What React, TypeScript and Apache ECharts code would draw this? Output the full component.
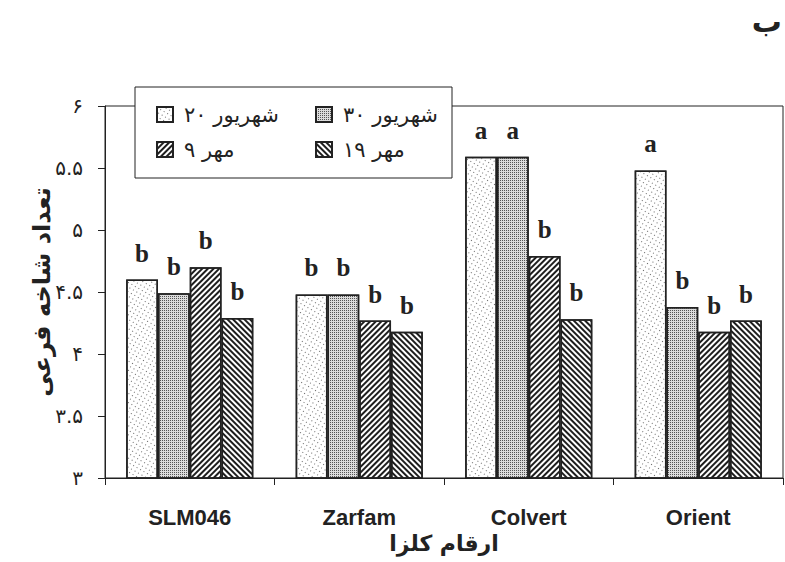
import React, { useEffect, useRef } from "react";
import * as echarts from "echarts";

const categories = ["SLM046", "Zarfam", "Colvert", "Orient"];
const seriesNames = ["شهریور ۲۰", "شهریور ۳۰", "مهر ۹", "مهر ۱۹"];
const valuesShahrivar20 = [4.6, 4.48, 5.59, 5.48];
const valuesShahrivar30 = [4.49, 4.48, 5.59, 4.38];
const valuesMehr9 = [4.7, 4.27, 4.79, 4.18];
const valuesMehr19 = [4.29, 4.18, 4.28, 4.27];
const lettersShahrivar20 = ["b", "b", "a", "a"];
const lettersShahrivar30 = ["b", "b", "a", "b"];
const lettersMehr9 = ["b", "b", "b", "b"];
const lettersMehr19 = ["b", "b", "b", "b"];
const yTicks = { min: 3, max: 6, interval: 0.5 };
const yAxisName = "تعداد شاخه فرعی";
const xAxisName = "ارقام کلزا";
const panelLetter = "ب";

const faDigits = "۰۱۲۳۴۵۶۷۸۹";
const toFa = (s: string) => s.replace(/[0-9]/g, (d) => faDigits[Number(d)]);

const allValues = [valuesShahrivar20, valuesShahrivar30, valuesMehr9, valuesMehr19];
const allLetters = [lettersShahrivar20, lettersShahrivar30, lettersMehr9, lettersMehr19];

const barColors = ["#ffffff", "#dcdcdc", "#ffffff", "#ffffff"];
const decals: any[] = [
  { symbol: "rect", symbolSize: 1, color: "#6a6a6a", dashArrayX: [1, 3], dashArrayY: [1, 3] },
  { symbol: "rect", symbolSize: 1, color: "#555555", dashArrayX: [1, 1], dashArrayY: [1, 1] },
  { symbol: "rect", symbolSize: 1, color: "#1e1e1e", dashArrayX: [1, 0], dashArrayY: [2, 1.5], rotation: -Math.PI / 4 },
  { symbol: "rect", symbolSize: 1, color: "#1e1e1e", dashArrayX: [1, 0], dashArrayY: [2, 1.7], rotation: Math.PI / 4 },
];

const legendPos = [
  { left: 156, top: 104 },
  { left: 315, top: 104 },
  { left: 156, top: 139 },
  { left: 315, top: 139 },
];

const persianFont = "'DejaVu Sans', 'Noto Sans', sans-serif";

export default function App() {
  const ref = useRef<HTMLDivElement>(null);
  useEffect(() => {
    const chart = echarts.init(ref.current!, null, { renderer: "svg" });
    const option: any = {
      animation: false,
      backgroundColor: "#ffffff",
      aria: { enabled: true, decal: { show: true } },
      grid: {
        left: 105,
        right: 2,
        top: 106,
        bottom: 84,
        show: true,
        borderColor: "#222",
        borderWidth: 1,
        backgroundColor: "transparent",
      },
      legend: seriesNames.map((n, i) => ({
        data: [n],
        left: legendPos[i].left,
        top: legendPos[i].top,
        padding: 0,
        itemWidth: 16,
        itemHeight: 15,
        icon: "rect",
        selectedMode: false,
        z: 6,
        textStyle: { fontFamily: persianFont, fontSize: 21, color: "#222", padding: [0, 0, 0, 6] },
      })),
      xAxis: {
        type: "category",
        data: categories,
        name: xAxisName,
        nameLocation: "middle",
        nameGap: 54,
        nameMoveOverlap: false,
        nameTextStyle: { fontFamily: persianFont, fontSize: 22, fontWeight: "bold", color: "#222" },
        axisLine: { lineStyle: { color: "#222", width: 1 } },
        axisTick: { show: true, length: 7, lineStyle: { color: "#222" } },
        axisLabel: {
          margin: 28,
          fontFamily: "'Liberation Sans', Arial, sans-serif",
          fontSize: 22,
          fontWeight: "bold",
          color: "#222",
        },
      },
      yAxis: {
        type: "value",
        min: yTicks.min,
        max: yTicks.max,
        interval: yTicks.interval,
        name: yAxisName,
        nameLocation: "middle",
        nameGap: 51,
        nameMoveOverlap: false,
        nameTextStyle: { fontFamily: persianFont, fontSize: 24, fontWeight: "bold", color: "#222" },
        axisLine: { show: true, lineStyle: { color: "#222", width: 1 } },
        axisTick: { show: true, length: 7, lineStyle: { color: "#222" } },
        splitLine: { show: false },
        axisLabel: {
          margin: 22,
          fontFamily: persianFont,
          fontSize: 20,
          color: "#222",
          formatter: (v: number) => toFa(String(v)),
        },
      },
      series: seriesNames.map((n, i) => ({
        type: "bar",
        name: n,
        data: allValues[i],
        barGap: "0%",
        barCategoryGap: "25%",
        itemStyle: { color: barColors[i], borderColor: "#222", borderWidth: 1.5, decal: decals[i] },
        label: {
          show: true,
          position: "top",
          distance: 14,
          fontFamily: "'Liberation Serif', 'Times New Roman', serif",
          fontWeight: "bold",
          fontSize: 25,
          color: "#222",
          formatter: (p: any) => allLetters[i][p.dataIndex],
        },
      })),
      graphic: [
        {
          type: "rect",
          z: 5,
          shape: { x: 135, y: 87, width: 317, height: 91 },
          style: { fill: "#ffffff", stroke: "#222", lineWidth: 1 },
        },
        {
          type: "text",
          right: 3,
          top: 6,
          style: { text: panelLetter, fontFamily: persianFont, fontSize: 30, fontWeight: "bold", fill: "#222" },
        },
      ],
    };
    chart.setOption(option);
    return () => chart.dispose();
  }, []);
  return (
    <div
      ref={ref}
      style={{ position: "fixed", left: 0, top: 0, width: 785, height: 562, background: "#fff" }}
    />
  );
}
